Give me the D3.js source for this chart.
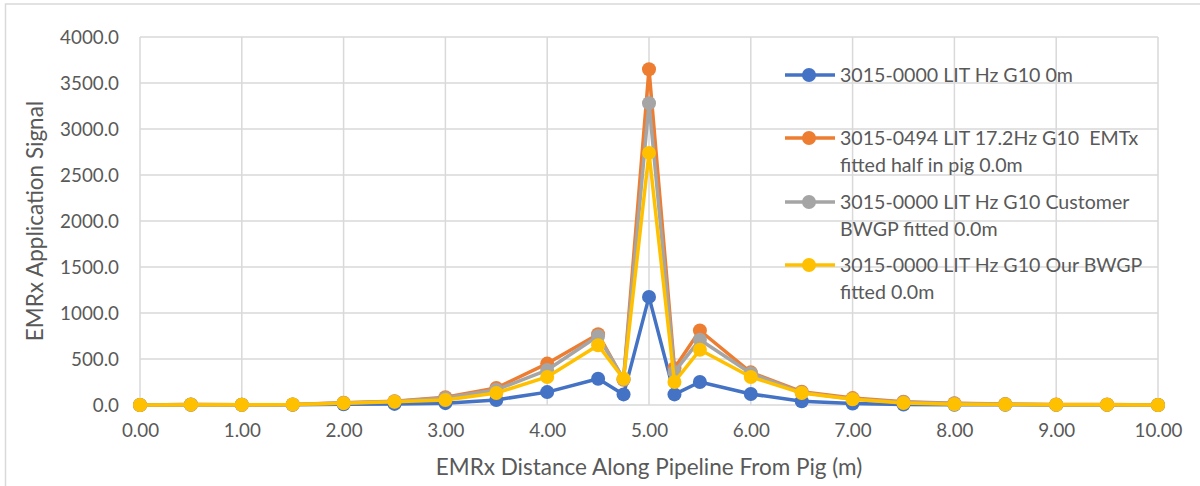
<!DOCTYPE html>
<html><head><meta charset="utf-8">
<script src="https://cdn.jsdelivr.net/npm/d3@7"></script>
<style>
html,body{margin:0;padding:0;background:#fff;}
text{font-family:Lato,"Open Sans",sans-serif;fill:#595959;}
</style></head>
<body><svg id="c" width="1200" height="486"></svg>
<script>
const distances = [0,0.5,1,1.5,2,2.5,3,3.5,4,4.5,4.75,5,5.25,5.5,6,6.5,7,7.5,8,8.5,9,9.5,10];
const seriesNames = [
  "3015-0000 LIT Hz G10 0m",
  "3015-0494 LIT 17.2Hz G10  EMTx fitted half in pig 0.0m",
  "3015-0000 LIT Hz G10 Customer BWGP fitted 0.0m",
  "3015-0000 LIT Hz G10 Our BWGP fitted 0.0m"
];
const legendLines = [
  ["3015-0000 LIT Hz G10 0m"],
  ["3015-0494 LIT 17.2Hz G10  EMTx","fitted half in pig 0.0m"],
  ["3015-0000 LIT Hz G10 Customer","BWGP fitted 0.0m"],
  ["3015-0000 LIT Hz G10 Our BWGP","fitted 0.0m"]
];
const blueValues   = [0,3,2,3,8,12,20,55,140,285,115,1175,115,250,120,40,15,5,3,2,1,1,0];
const orangeValues = [0,5,3,6,25,40,85,185,450,770,275,3650,400,810,355,145,75,35,20,10,5,5,0];
const grayValues   = [0,5,3,6,22,38,75,165,380,750,280,3280,360,710,345,135,65,30,15,8,4,4,0];
const yellowValues = [0,4,3,5,20,35,55,130,305,650,285,2740,250,600,305,130,62,22,8,5,3,3,0];
const xTicks = [0,1,2,3,4,5,6,7,8,9,10];
const yTicks = [0,500,1000,1500,2000,2500,3000,3500,4000];
const colors = ["#4472C4","#ED7D31","#A5A5A5","#FFC000"];
const allValues = [blueValues, orangeValues, grayValues, yellowValues];

const svg = d3.select("#c");
const x = d3.scaleLinear().domain([0,10]).range([140,1158]);
const y = d3.scaleLinear().domain([0,4000]).range([405,37]);

// outer frame
svg.append("rect").attr("x",5.5).attr("y",4).attr("width",1300).attr("height",600)
  .attr("fill","none").attr("stroke","#d9d9d9").attr("stroke-width",1.5);

// gridlines
const g = svg.append("g");
g.selectAll(".hg").data(yTicks).join("line")
  .attr("x1",x(0)).attr("x2",x(10)).attr("y1",d=>y(d)).attr("y2",d=>y(d))
  .attr("stroke","#d9d9d9").attr("stroke-width",1.5);
g.selectAll(".vg").data(xTicks).join("line")
  .attr("y1",y(0)).attr("y2",y(4000)).attr("x1",d=>x(d)).attr("x2",d=>x(d))
  .attr("stroke","#d9d9d9").attr("stroke-width",1.5);

// axes via d3
const yAxis = svg.append("g").attr("transform",`translate(${x(0)},0)`)
  .call(d3.axisLeft(y).tickValues(yTicks).tickFormat(d3.format(".1f")).tickSize(0).tickPadding(21));
const xAxis = svg.append("g").attr("transform",`translate(0,${y(0)})`)
  .call(d3.axisBottom(x).tickValues(xTicks).tickFormat(d3.format(".2f")).tickSize(0).tickPadding(19));
[yAxis,xAxis].forEach(a=>{
  a.select(".domain").remove();
  a.selectAll("text").style("font-family","Lato").style("font-size","18.8px").attr("fill","#595959");
});

// axis titles
svg.append("text").attr("transform","translate(43,221) rotate(-90)")
  .attr("text-anchor","middle").style("font-size","22.5px").text("EMRx Application Signal");
svg.append("text").attr("x",649).attr("y",475)
  .attr("text-anchor","middle").style("font-size","22.5px").text("EMRx Distance Along Pipeline From Pig (m)");

// series
const line = d3.line().x((d,i)=>x(distances[i])).y(d=>y(d));
allValues.forEach((vals,k)=>{
  const sg = svg.append("g");
  sg.append("path").datum(vals).attr("d",line).attr("fill","none")
    .attr("stroke",colors[k]).attr("stroke-width",3.5).attr("stroke-linejoin","round");
  sg.selectAll("circle").data(vals).join("circle")
    .attr("cx",(d,i)=>x(distances[i])).attr("cy",d=>y(d)).attr("r",7)
    .attr("fill",colors[k]);
});

// legend
const legendY = [75,138,202,265];
legendLines.forEach((lines,k)=>{
  const lg = svg.append("g");
  lg.append("line").attr("x1",785).attr("x2",835).attr("y1",legendY[k]).attr("y2",legendY[k])
    .attr("stroke",colors[k]).attr("stroke-width",3.5);
  lg.append("circle").attr("cx",809).attr("cy",legendY[k]).attr("r",7).attr("fill",colors[k]);
  lines.forEach((t,j)=>{
    lg.append("text").attr("x",840).attr("y",legendY[k]+7+j*27)
      .style("font-size","19.6px").attr("xml:space","preserve").style("white-space","pre").text(t);
  });
});
</script></body></html>
